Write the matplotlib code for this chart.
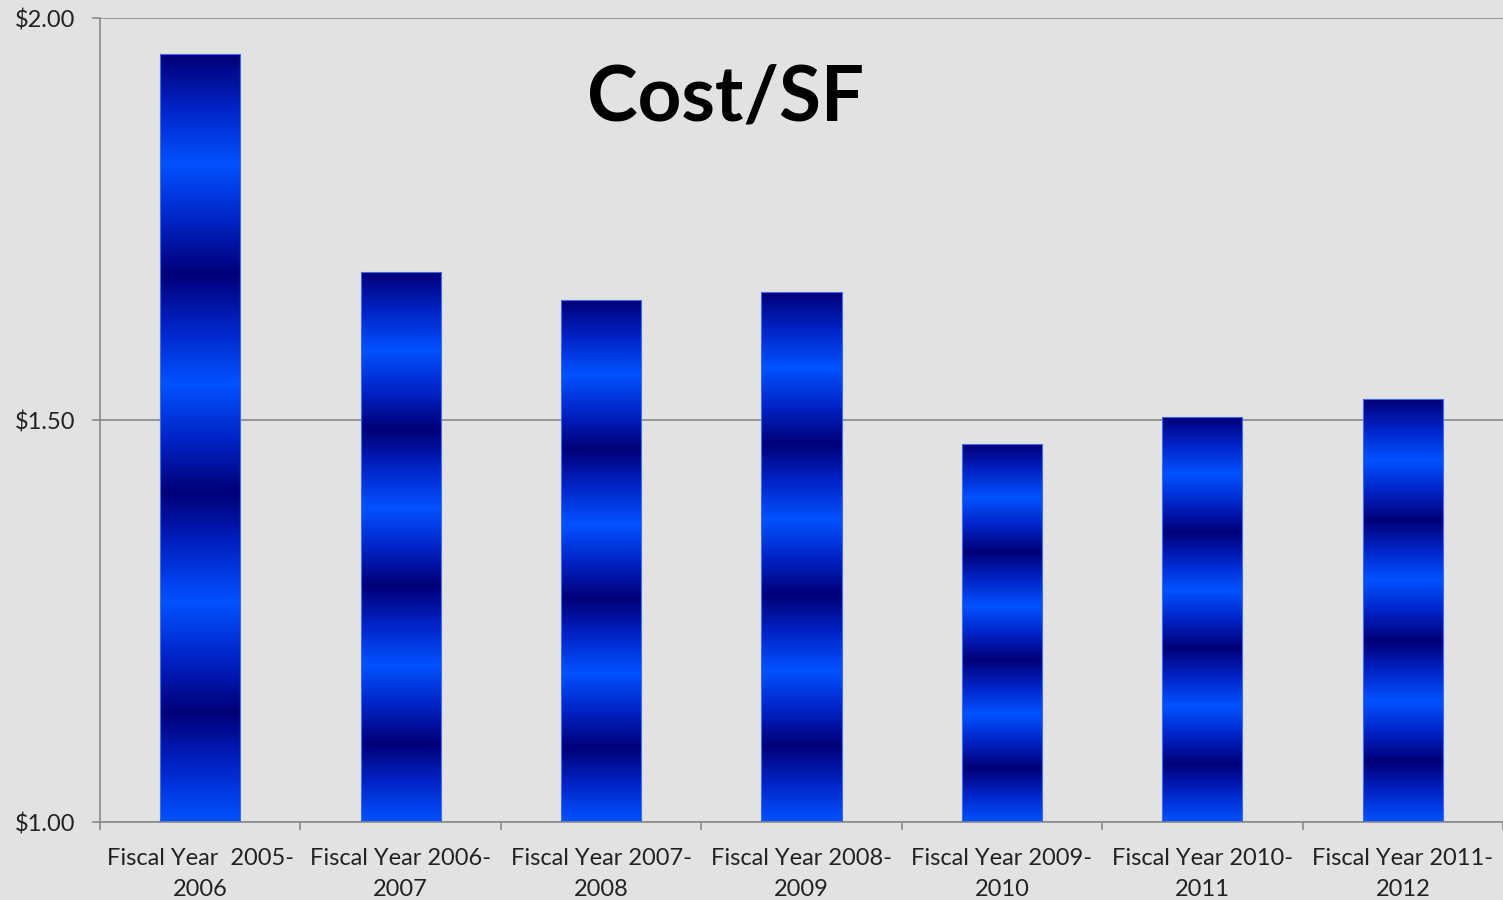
import numpy as np
import matplotlib
matplotlib.use("Agg")
from matplotlib import pyplot as plt
from matplotlib.colors import LinearSegmentedColormap

# data
categories = ["Fiscal Year  2005-\n2006", "Fiscal Year 2006-\n2007", "Fiscal Year 2007-\n2008",
              "Fiscal Year 2008-\n2009", "Fiscal Year 2009-\n2010", "Fiscal Year 2010-\n2011",
              "Fiscal Year 2011-\n2012"]
cost_sf = [1.955, 1.684, 1.649, 1.659, 1.470, 1.504, 1.526]
y_ticks = [1.00, 1.50, 2.00]
y_labels = ["$1.00", "$1.50", "$2.00"]

plt.rcParams['font.family'] = ['Lato', 'DejaVu Sans']

fig = plt.figure(figsize=(15.03, 9), dpi=100)
fig.patch.set_facecolor('#e2e2e2')
ax = fig.add_axes([100/1503, 78/900, 1 - 100/1503, 804/900])
ax.set_facecolor('#e2e2e2')

# striped blue gradient, 7 half-periods from top (dark) to bottom (bright)
cmap = LinearSegmentedColormap.from_list("stripe", ["#000078", "#0024c8", "#0052ff"])
t = np.linspace(0, 1, 600)
grad = 1 - np.abs(np.mod(7 * t, 2) - 1)
grad = grad[:, None]

x = np.arange(len(categories))
bars = ax.bar(x, np.array(cost_sf) - 1.0, bottom=1.0, width=0.4,
              color='none', edgecolor='#3a6cf0', linewidth=0.8, zorder=3)
for b, v in zip(bars, cost_sf):
    x0 = b.get_x()
    im = ax.imshow(grad, cmap=cmap, aspect='auto', vmin=0, vmax=1,
                   extent=(x0, x0 + b.get_width(), 1.0, v), zorder=2,
                   interpolation='bilinear')
    im.set_clip_path(b)

ax.set_xlim(-0.5, len(categories) - 0.5)
ax.set_ylim(1.0, 2.0)

ax.set_yticks(y_ticks)
ax.set_yticklabels(y_labels, fontsize=17, color='#222222')
ax.yaxis.grid(True, color='#8a8a8a', linewidth=1.2, zorder=1)
ax.tick_params(axis='y', length=6, width=1.2, color='#8a8a8a', pad=12)

ax.set_xticks(x)
ax.set_xticklabels(categories, fontsize=17, color='#222222', linespacing=1.55)
ax.set_xticks(np.arange(len(categories) + 1) - 0.5, minor=True)
ax.tick_params(axis='x', which='major', length=0, pad=19)
ax.tick_params(axis='x', which='minor', length=6, width=1.2, color='#8a8a8a')

for s in ['top', 'right']:
    ax.spines[s].set_visible(False)
for s in ['left', 'bottom']:
    ax.spines[s].set_color('#8a8a8a')
    ax.spines[s].set_linewidth(1.2)

ax.text(0.446, 0.90, "Cost/SF", transform=ax.transAxes, fontsize=55,
        fontweight='bold', ha='center', va='center', color='black')

fig.savefig("out.png", dpi=100, facecolor=fig.get_facecolor())
